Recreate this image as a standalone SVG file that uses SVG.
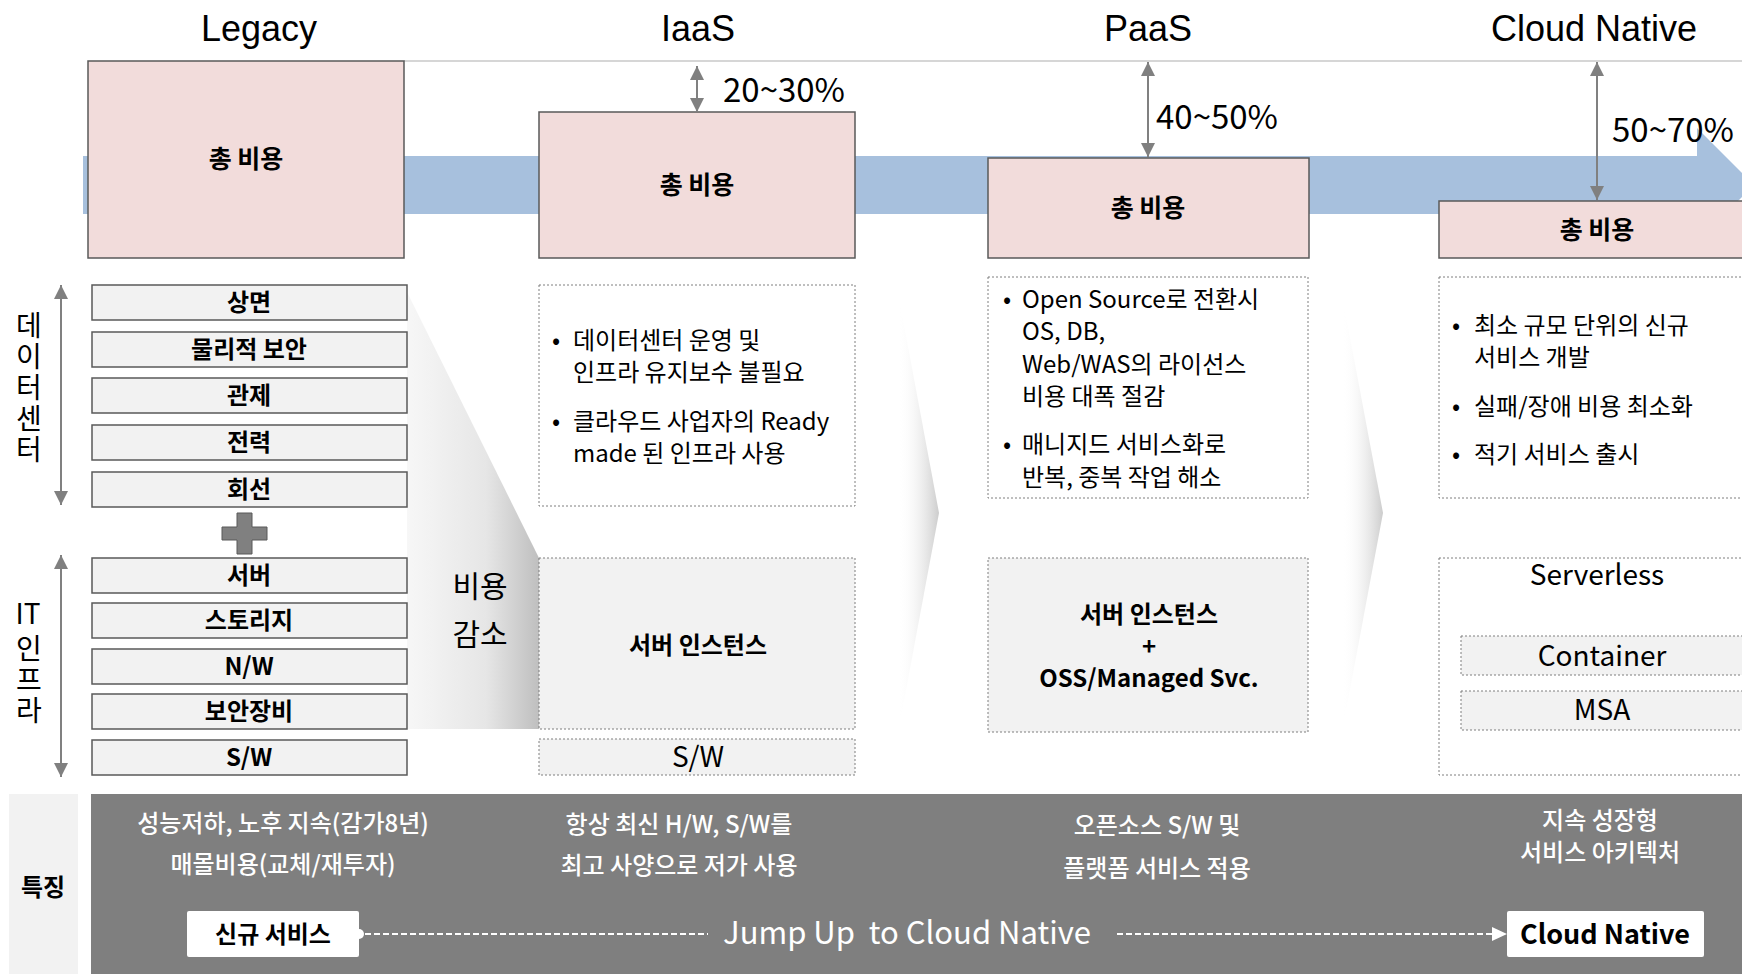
<svg xmlns="http://www.w3.org/2000/svg" width="1742" height="974" viewBox="0 0 1742 974">
<defs>
<style>
text{font-family:"Noto Sans CJK KR","Noto Sans",sans-serif;fill:#000}
.ttl{font-family:"Liberation Sans","Noto Sans CJK KR",sans-serif;font-size:36px;text-anchor:middle}
.cost{fill:#f2dcdb;stroke:#595959;stroke-width:1.5}
.ct{font-size:25px;font-weight:700;text-anchor:middle}
.lb{fill:#f2f2f2;stroke:#595959;stroke-width:1.5}
.lt{font-size:24px;font-weight:700;text-anchor:middle}
.dbw{fill:#ffffff;stroke:#7f7f7f;stroke-width:1;stroke-dasharray:2 2}
.dbg{fill:#f2f2f2;stroke:#7f7f7f;stroke-width:1;stroke-dasharray:2 2}
.bt{font-size:24px}
.pct{font-size:33px}
.vl{font-size:28px;text-anchor:middle}
.vt{font-size:28px;writing-mode:vertical-rl;text-orientation:upright;letter-spacing:3px}
.wt{font-size:24px;font-weight:500;fill:#ffffff;text-anchor:middle}
.ga{stroke:#808080;stroke-width:2;fill:none;marker-start:url(#ah);marker-end:url(#ah)}
.dl{stroke:#ffffff;stroke-width:2;stroke-dasharray:6 3;fill:none}
</style>
<marker id="ah" viewBox="0 0 10 10" refX="10" refY="5" markerWidth="15" markerHeight="14" markerUnits="userSpaceOnUse" orient="auto-start-reverse">
<path d="M0,0 L10,5 L0,10 Z" fill="#808080"/>
</marker>
<linearGradient id="chev" x1="0" y1="0" x2="1" y2="0">
<stop offset="0" stop-color="#ffffff" stop-opacity="0"/>
<stop offset="1" stop-color="#cccccc"/>
</linearGradient>
<linearGradient id="wedge" x1="0" y1="0" x2="1" y2="0">
<stop offset="0" stop-color="#f7f7f7"/>
<stop offset="0.6" stop-color="#e6e6e6"/>
<stop offset="1" stop-color="#bfbfbf"/>
</linearGradient>
</defs>
<rect x="0" y="0" width="1742" height="974" fill="#ffffff"/>

<!-- background shapes -->
<g id="background">
<line x1="404" y1="61" x2="1742" y2="61" stroke="#c8c8c8" stroke-width="1.5"/>
<polygon points="83,156 1697,156 1697,128 1754,185 1697,242 1697,214 83,214" fill="#a7c0dd"/>
<polygon points="407,292 539,558 539,729 407,729" fill="url(#wedge)"/>
<polygon points="898,293 939,513 898,733" fill="url(#chev)"/>
<polygon points="1342,295 1383,513 1342,732" fill="url(#chev)"/>
</g>

<!-- titles -->
<g id="titles">
<text class="ttl" x="259" y="41">Legacy</text>
<text class="ttl" x="698" y="41">IaaS</text>
<text class="ttl" x="1148" y="41">PaaS</text>
<text class="ttl" x="1594" y="41">Cloud Native</text>
</g>

<!-- cost boxes -->
<g id="cost-legacy">
<rect class="cost" x="88" y="61" width="316" height="197"/>
<text class="ct" x="246" y="168">총 비용</text>
</g>
<g id="cost-iaas">
<rect class="cost" x="539" y="112" width="316" height="146"/>
<text class="ct" x="697" y="194">총 비용</text>
</g>
<g id="cost-paas">
<rect class="cost" x="988" y="158" width="321" height="100"/>
<text class="ct" x="1148" y="217">총 비용</text>
</g>
<g id="cost-cn">
<rect class="cost" x="1439" y="201" width="320" height="57"/>
<text class="ct" x="1597" y="239">총 비용</text>
</g>

<!-- percent labels -->
<g id="percents">
<text class="pct" x="723" y="102">20~30%</text>
<text class="pct" x="1156" y="129">40~50%</text>
<text class="pct" x="1612" y="142">50~70%</text>
</g>

<!-- vertical side labels -->
<g id="label-dc">
<text class="vt" x="29" y="311">데이터센터</text>
</g>
<g id="label-it">
<text class="vl" x="28" y="624">IT</text>
<text class="vt" x="29" y="634">인프라</text>
</g>

<!-- legacy stack -->
<g id="legacy-dc">
<rect class="lb" x="92" y="285" width="315" height="35"/><text class="lt" x="249" y="311">상면</text>
<rect class="lb" x="92" y="332" width="315" height="35"/><text class="lt" x="249" y="358">물리적 보안</text>
<rect class="lb" x="92" y="378" width="315" height="35"/><text class="lt" x="249" y="404">관제</text>
<rect class="lb" x="92" y="425" width="315" height="35"/><text class="lt" x="249" y="451">전력</text>
<rect class="lb" x="92" y="472" width="315" height="35"/><text class="lt" x="249" y="498">회선</text>
</g>
<g id="plus">
<path d="M237,513 H252 V527 H267 V540 H252 V554 H237 V540 H222 V527 H237 Z" fill="#808080" stroke="#595959" stroke-width="1"/>
</g>
<g id="legacy-it">
<rect class="lb" x="92" y="558" width="315" height="35"/><text class="lt" x="249" y="584">서버</text>
<rect class="lb" x="92" y="603" width="315" height="35"/><text class="lt" x="249" y="629">스토리지</text>
<rect class="lb" x="92" y="649" width="315" height="35"/><text class="lt" x="249" y="675">N/W</text>
<rect class="lb" x="92" y="694" width="315" height="35"/><text class="lt" x="249" y="720">보안장비</text>
<rect class="lb" x="92" y="740" width="315" height="35"/><text class="lt" x="249" y="766">S/W</text>
</g>
<g id="cost-down">
<text class="vl" style="font-size:30px"><tspan x="480" y="597">비용</tspan><tspan x="480" y="645">감소</tspan></text>
</g>

<!-- IaaS -->
<g id="iaas-desc">
<rect class="dbw" x="539" y="285" width="316" height="221"/>
<text class="bt"><tspan x="552" y="349">•</tspan><tspan x="573" y="349">데이터센터 운영 및</tspan><tspan x="573" y="381">인프라 유지보수 불필요</tspan><tspan x="552" y="430">•</tspan><tspan x="573" y="430">클라우드 사업자의 Ready</tspan><tspan x="573" y="462">made 된 인프라 사용</tspan></text>
</g>
<g id="iaas-server">
<rect class="dbg" x="539" y="558" width="316" height="171"/>
<text class="lt" x="698" y="654">서버 인스턴스</text>
</g>
<g id="iaas-sw">
<rect class="dbg" x="539" y="739" width="316" height="36"/>
<text x="698" y="767" style="font-size:28px" text-anchor="middle">S/W</text>
</g>

<!-- PaaS -->
<g id="paas-desc">
<rect class="dbw" x="988" y="277" width="320" height="221"/>
<text class="bt"><tspan x="1003" y="308">•</tspan><tspan x="1022" y="308">Open Source로 전환시</tspan><tspan x="1022" y="340">OS, DB,</tspan><tspan x="1022" y="373">Web/WAS의 라이선스</tspan><tspan x="1022" y="405">비용 대폭 절감</tspan><tspan x="1003" y="453">•</tspan><tspan x="1022" y="453">매니지드 서비스화로</tspan><tspan x="1022" y="486">반복, 중복 작업 해소</tspan></text>
</g>
<g id="paas-server">
<rect class="dbg" x="988" y="558" width="320" height="174"/>
<text class="lt"><tspan x="1149" y="623">서버 인스턴스</tspan><tspan x="1149" y="655">+</tspan><tspan x="1149" y="687">OSS/Managed Svc.</tspan></text>
</g>

<!-- Cloud Native -->
<g id="cn-desc">
<rect class="dbw" x="1439" y="277" width="330" height="221"/>
<text class="bt"><tspan x="1452" y="334">•</tspan><tspan x="1474" y="334">최소 규모 단위의 신규</tspan><tspan x="1474" y="366">서비스 개발</tspan><tspan x="1452" y="415">•</tspan><tspan x="1474" y="415">실패/장애 비용 최소화</tspan><tspan x="1452" y="463">•</tspan><tspan x="1474" y="463">적기 서비스 출시</tspan></text>
</g>
<g id="cn-serverless">
<rect class="dbw" x="1439" y="558" width="330" height="217"/>
<text x="1597" y="585" style="font-size:28px" text-anchor="middle">Serverless</text>
</g>
<g id="cn-container">
<rect class="dbg" x="1461" y="636" width="310" height="39"/>
<text x="1602" y="666" style="font-size:28px" text-anchor="middle">Container</text>
</g>
<g id="cn-msa">
<rect class="dbg" x="1461" y="691" width="310" height="39"/>
<text x="1602" y="720" style="font-size:28px" text-anchor="middle">MSA</text>
</g>

<!-- bottom band -->
<g id="feature-label">
<rect x="9" y="794" width="69" height="180" fill="#f2f2f2"/>
<text class="lt" x="43" y="896">특징</text>
</g>
<g id="feature-band">
<rect x="91" y="794" width="1651" height="180" fill="#7f7f7f"/>
<text class="wt"><tspan x="283" y="832">성능저하, 노후 지속(감가8년)</tspan><tspan x="283" y="873">매몰비용(교체/재투자)</tspan></text>
<text class="wt"><tspan x="679" y="833">항상 최신 H/W, S/W를</tspan><tspan x="679" y="874">최고 사양으로 저가 사용</tspan></text>
<text class="wt"><tspan x="1157" y="834">오픈소스 S/W 및</tspan><tspan x="1157" y="877">플랫폼 서비스 적용</tspan></text>
<text class="wt"><tspan x="1600" y="829">지속 성장형</tspan><tspan x="1600" y="861">서비스 아키텍처</tspan></text>
<text class="wt" x="907" y="944" style="font-size:31px;font-weight:400;white-space:pre">Jump Up  to Cloud Native</text>
</g>
<g id="new-service">
<rect x="187" y="911" width="172" height="46" rx="2" fill="#ffffff"/>
<circle cx="359" cy="934" r="5" fill="#ffffff"/>
<text class="lt" x="273" y="943">신규 서비스</text>
</g>
<g id="cloud-native-end">
<rect x="1507" y="911" width="197" height="46" rx="2" fill="#ffffff"/>
<text x="1605" y="944" style="font-size:27px;font-weight:700" text-anchor="middle">Cloud Native</text>
</g>

<!-- connectors -->
<g id="connectors">
<line class="ga" x1="697" y1="66" x2="697" y2="112"/>
<line class="ga" x1="1148" y1="62" x2="1148" y2="157"/>
<line class="ga" x1="1597" y1="62" x2="1597" y2="200"/>
<line class="ga" x1="61" y1="285" x2="61" y2="505"/>
<line class="ga" x1="61" y1="555" x2="61" y2="777"/>
<line class="dl" x1="365" y1="934" x2="708" y2="934"/>
<line class="dl" x1="1117" y1="934" x2="1494" y2="934"/>
<polygon points="1492,927 1507,934 1492,941" fill="#ffffff"/>
</g>
</svg>
